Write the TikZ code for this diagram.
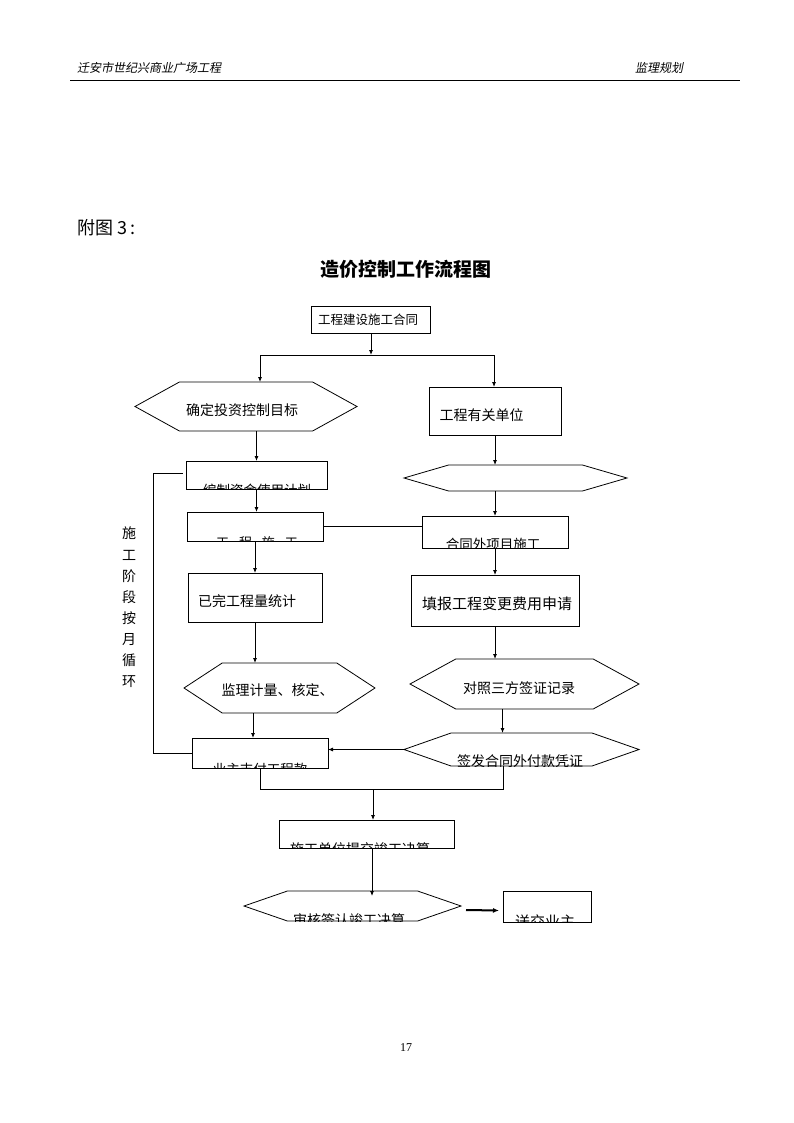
\documentclass[tikz,border=0pt]{standalone}
\usepackage{fontspec}
\setmainfont{Liberation Serif}
\newfontfamily\cjk{Noto Sans CJK SC}
\newfontfamily\cjkit[FakeSlant=0.2]{Noto Sans CJK SC}
\usetikzlibrary{arrows.meta,calc}
\newcommand\bx[5]{\node[shp,minimum width=#4pt,minimum height=#5pt,draw] (#1) at (#2,#3) {};}
\newcommand\hx[5]{\node[shp,minimum width=#4pt,minimum height=#5pt] (#1) at (#2,#3) {};
  \draw[ln] (#1.west) -- ($(#1.north west)!0.2!(#1.north east)$) -- ($(#1.north west)!0.8!(#1.north east)$) -- (#1.east) -- ($(#1.south west)!0.8!(#1.south east)$) -- ($(#1.south west)!0.2!(#1.south east)$) -- cycle;}
% clipped text: name, shape, x, baseline y, size, text
\newcommand\ctx[6]{\begin{scope}\clip (#2.north west) rectangle (#2.south east);
  \node[txt,anchor=base,font=\cjk\fontsize{#5}{#5}\selectfont] (#1) at (#3,#4) {#6};\end{scope}}
\begin{document}
\begin{tikzpicture}[x=1pt,y=-1pt,
  shp/.style={inner sep=0,outer sep=0,line width=0.8pt},
  ln/.style={line width=0.8pt},
  arr/.style={line width=0.8pt,-{Latex[length=5pt,width=4pt]}},
  txt/.style={inner sep=0,font=\cjk\fontsize{14}{14}\selectfont}]
\useasboundingbox (0,0) rectangle (794,1123);
\fill[white] (0,0) rectangle (794,1123);
% header
\node[inner sep=0,anchor=base west,font=\cjkit\fontsize{12}{12}\selectfont] (h1) at (77,73) {迁安市世纪兴商业广场工程};
\node[inner sep=0,anchor=base west,font=\cjkit\fontsize{12}{12}\selectfont] (h2) at (635,73) {监理规划};
\coordinate (hl1) at (70,80.5); \coordinate (hl2) at (740,80.5);
\draw[line width=1.1pt] (hl1) -- (hl2);
\node[inner sep=0,anchor=base west,font=\cjk\fontsize{18}{18}\selectfont] (fig) at (77,235) {附图 3\,:};
\node[inner sep=0,anchor=base,font=\cjk\bfseries\fontsize{19}{19}\selectfont] (title) at (406,276) {造价控制工作流程图};
\node[inner sep=0,anchor=base,font=\fontsize{12}{12}\selectfont] (pg) at (406,1051) {17};
% shapes
\bx{A}{370.5}{319.5}{119}{27}
\hx{B}{246}{406.5}{222}{49}
\bx{C}{495}{411}{132}{48}
\bx{D}{256.5}{475}{141}{28}
\hx{E}{515.5}{478}{223}{26}
\bx{F}{255}{526.5}{136}{29}
\bx{G}{495}{532}{146}{32}
\bx{H}{255}{597.5}{134}{49}
\bx{I}{495}{600.5}{168}{51}
\hx{J}{279.5}{688}{191}{50}
\hx{K}{524.5}{684}{229}{50}
\bx{L}{260}{753}{136}{30}
\hx{M}{521.5}{749.5}{235}{33}
\bx{N}{366.5}{834}{175}{28}
\hx{O}{352.5}{906}{217}{30}
\bx{P}{547}{906.5}{88}{31}
% texts
\node[txt,anchor=base,font=\cjk\fontsize{12.5}{12.5}\selectfont] (tA) at (368,324) {工程建设施工合同};
\node[txt,anchor=base] (tB) at (242,415) {确定投资控制目标};
\node[txt,anchor=base] (tC) at (481.5,420) {工程有关单位};
\node[txt,anchor=base] (tH) at (247,606) {已完工程量统计};
\node[txt,anchor=base,font=\cjk\fontsize{15}{15}\selectfont] (tI) at (497,609) {填报工程变更费用申请};
\node[txt,anchor=base] (tJ) at (277.5,695) {监理计量、核定、};
\node[txt,anchor=base] (tK) at (519,693) {对照三方签证记录};
\ctx{tD}{D}{257}{495.5}{13.5}{编制资金使用计划}
\ctx{tF}{F}{257}{547}{13}{工\hspace{10pt}程\hspace{10pt}施\hspace{10pt}工}
\ctx{tG}{G}{493}{549}{13.5}{合同外项目施工}
\ctx{tL}{L}{260}{774}{13.5}{业主支付工程款}
\ctx{tM}{M}{520}{766.5}{14}{签发合同外付款凭证}
\ctx{tN}{N}{360}{854}{14}{施工单位提交竣工决算}
\ctx{tO}{O}{349}{925.5}{14}{审核签认竣工决算}
\ctx{tP}{P}{545}{927}{15}{送交业主}
\node[txt,align=center,font=\cjk\fontsize{14}{21.1}\selectfont,anchor=north] (loopt) at (129,527) {施\\工\\阶\\段\\按\\月\\循\\环};
% connectors
\coordinate (j1) at (371,355);
\coordinate (jl) at (260,355);
\coordinate (jr) at (494,355);
\draw[arr] (A.south -| j1) -- (j1);
\draw[ln] (jl) -- (jr);
\draw[arr] (jl) -- (jl |- B.north);
\draw[arr] (jr) -- (jr |- C.north);
\draw[arr] (B.south -| D.north) -- (D.north);
\draw[arr] (C.south) -- (C.south |- E.north);
\draw[arr] (D.south) -- (D.south |- F.north);
\draw[arr] (G.north |- E.south) -- (G.north);
\draw[ln] (F.east) -- (F.east -| G.west);
\draw[arr] (F.south) -- (F.south |- H.north);
\draw[arr] (G.south) -- (G.south |- I.north);
\draw[arr] (H.south) -- (H.south |- J.north);
\draw[arr] (I.south) -- (I.south |- K.north);
\coordinate (xl) at ([xshift=-7pt]L.north);
\draw[arr] (xl |- J.south) -- (xl);
\coordinate (xm) at ([xshift=-19pt]M.north);
\draw[arr] (xm |- K.south) -- (xm);
\draw[arr] (M.west) -- (M.west -| L.east);
\coordinate (lb) at (153,753);
\coordinate (lt) at (153,473);
\draw[ln] (L.west) -- (lb) -- (lt) -- ([xshift=-3pt]D.west |- lt);
\coordinate (jb) at (373,789);
\coordinate (jbr) at (503,789);
\draw[ln] (L.south) |- (jbr) -- (jbr |- M.south);
\draw[arr] (jb) -- (jb |- N.north);
\coordinate (xn) at (372,0);
\draw[arr] (xn |- N.south) -- ([yshift=-5pt]xn |- O.north);
\draw[line width=2pt,-{Latex[length=6pt,width=5pt]}] ([xshift=5pt,yshift=-4pt]O.east) -- ([xshift=-4pt,yshift=-4pt]P.west);
\end{tikzpicture}
\end{document}
